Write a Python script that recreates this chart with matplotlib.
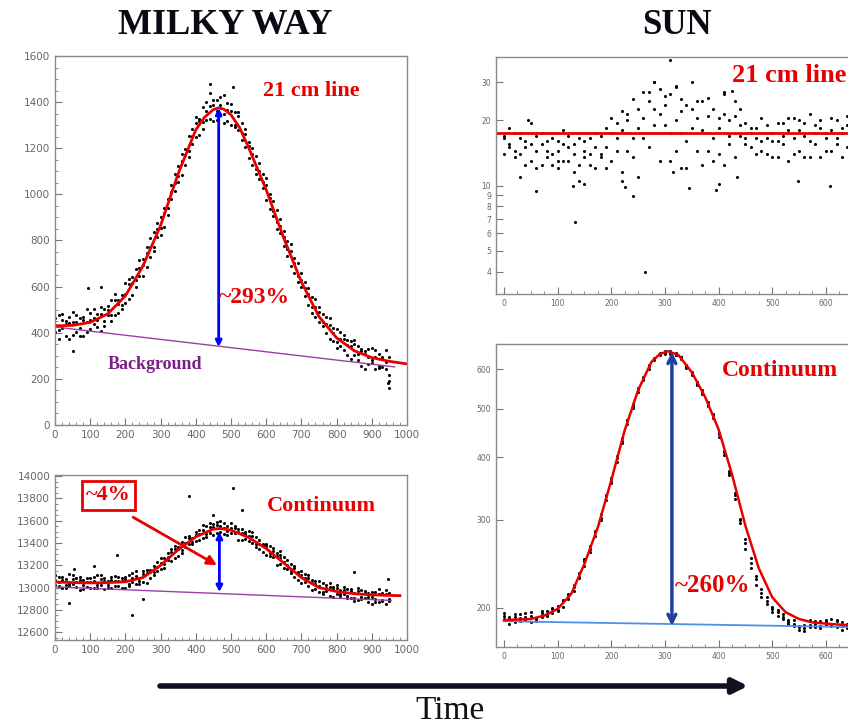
import matplotlib
matplotlib.use('Agg')
import matplotlib.pyplot as plt
from matplotlib.ticker import MultipleLocator, NullLocator
from matplotlib.patches import FancyArrowPatch

# ---------------------
# Milky Way data (sample time, counts)
t_mw = [0, 10, 20, 30, 40, 50, 60, 70, 80, 90, 100, 110, 120, 130, 140, 150, 160, 170, 180, 190,
        200, 210, 220, 230, 240, 250, 260, 270, 280, 290, 300, 310, 320, 330, 340, 350, 360, 370, 380, 390,
        400, 410, 420, 430, 440, 450, 460, 470, 480, 490, 500, 510, 520, 530, 540, 550, 560, 570, 580, 590,
        600, 610, 620, 630, 640, 650, 660, 670, 680, 690, 700, 710, 720, 730, 740, 750, 760, 770, 780, 790,
        800, 810, 820, 830, 840, 850, 860, 870, 880, 890, 900, 910, 920, 930, 940, 950]

mw_line_a = [465, 410, 480, 386, 442, 492, 405, 462, 385, 447, 485, 437, 480, 407, 504, 477, 543, 478, 544, 519,
             615, 546, 642, 628, 714, 645, 745, 730, 835, 815, 900, 860, 980, 980, 1090, 1055, 1143, 1126, 1254, 1217,
             1310, 1257, 1379, 1322, 1440, 1318, 1408, 1349, 1429, 1317, 1390, 1292, 1339, 1236, 1262, 1158, 1201, 1110, 1138, 1027,
             1040, 938, 971, 879, 892, 775, 797, 689, 726, 648, 660, 560, 595, 510, 545, 445, 481, 397, 435, 366,
             418, 342, 371, 304, 363, 302, 341, 255, 319, 263, 332, 244, 306, 252, 324, 216]
mw_line_b = [405, 475, 420, 451, 372, 447, 475, 422, 470, 402, 455, 502, 425, 482, 449, 517, 478, 543, 484, 564,
             530, 611, 562, 678, 644, 720, 685, 810, 770, 850, 825, 940, 940, 1040, 1015, 1125, 1083, 1196, 1189, 1282,
             1250, 1327, 1284, 1402, 1325, 1408, 1323, 1424, 1349, 1397, 1300, 1357, 1279, 1311, 1207, 1228, 1126, 1165, 1068, 1087,
             975, 1003, 906, 934, 832, 840, 732, 754, 661, 703, 600, 620, 520, 555, 470, 510, 431, 467, 375, 421,
             358, 402, 326, 369, 288, 352, 281, 330, 244, 328, 267, 324, 246, 297, 244, 191]
mw_line_c = [435, 375, 455, 436, 467, 392, 445, 387, 455, 502, 415, 462, 455, 512, 429, 497, 453, 568, 524, 504,
             570, 631, 617, 598, 679, 695, 770, 770, 755, 875, 855, 920, 910, 1010, 1050, 1080, 1173, 1171, 1164, 1252,
             1335, 1317, 1314, 1362, 1385, 1388, 1363, 1389, 1309, 1367, 1360, 1302, 1359, 1266, 1282, 1208, 1176, 1090, 1103, 1052,
             1070, 983, 926, 849, 862, 815, 762, 784, 701, 618, 630, 595, 570, 485, 510, 490, 446, 437, 465, 401,
             333, 372, 391, 349, 343, 367, 306, 320, 309, 293, 282, 294, 256, 287, 274, 296]
mw_line_odd_t = [50, 95, 130, 440, 505, 945, 950]
mw_line_odd_y = [320, 592, 600, 1478, 1465, 180, 162]

mw_line_fit_t = [0, 50, 100, 150, 200, 250, 300, 350, 400, 425, 450, 465, 480, 500, 525, 550,
                 600, 650, 700, 750, 800, 850, 900, 950, 1000]
mw_line_fit_y = [430, 432, 445, 482, 560, 690, 865, 1090, 1280, 1335, 1368, 1375, 1369, 1345, 1288, 1203,
                 1020, 810, 620, 470, 378, 322, 292, 276, 265]
mw_line_bg_t = [0, 965]
mw_line_bg_y = [425, 252]
mw_line_arrow_t = 465
mw_line_arrow_y = [338, 1375]

mw_cont_a = [13110, 13014, 13068, 12997, 13121, 13035, 13084, 12979, 13068, 13048, 12997, 13098, 13023, 13079, 12985, 13060, 13096, 13018, 13059, 12996,
             13097, 13035, 13132, 13035, 13087, 13120, 13042, 13154, 13141, 13233, 13165, 13268, 13246, 13344, 13262, 13365, 13333, 13456, 13389, 13442,
             13500, 13429, 13563, 13482, 13546, 13470, 13588, 13550, 13480, 13550, 13490, 13552, 13429, 13491, 13503, 13415, 13495, 13390, 13395, 13320,
             13395, 13314, 13328, 13207, 13266, 13275, 13164, 13208, 13097, 13126, 13150, 13047, 13089, 12981, 13033, 12960, 13043, 12966, 13004, 12912,
             13000, 12946, 13002, 12903, 12969, 12910, 12998, 12916, 12949, 12867, 12965, 12894, 12983, 12877, 12946, 12900]
mw_cont_b = [13020, 13099, 12993, 13077, 13031, 13110, 13004, 13064, 12983, 13088, 13052, 12993, 13113, 13019, 13085, 13000, 13071, 13108, 13014, 13086,
             12992, 13110, 13047, 13105, 13032, 13150, 13127, 13089, 13196, 13148, 13265, 13208, 13306, 13239, 13342, 13280, 13408, 13361, 13464, 13387,
             13475, 13519, 13448, 13557, 13486, 13570, 13488, 13600, 13535, 13475, 13575, 13487, 13529, 13431, 13483, 13505, 13400, 13450, 13350, 13395,
             13295, 13369, 13278, 13312, 13211, 13230, 13249, 13128, 13172, 13066, 13110, 13122, 13014, 13066, 12983, 13055, 12963, 13026, 12929, 12987,
             13020, 12921, 12977, 12923, 12989, 12880, 12968, 12896, 12974, 12917, 12855, 12964, 12873, 12952, 12856, 12955]
mw_cont_c = [13070, 13054, 13093, 13022, 13011, 13075, 13054, 13099, 13023, 13003, 13082, 13058, 12998, 13109, 13055, 13025, 12996, 13063, 13094, 13056,
             13077, 13015, 13087, 13145, 13057, 13050, 13157, 13139, 13111, 13188, 13220, 13178, 13271, 13319, 13372, 13350, 13308, 13401, 13449, 13412,
             13415, 13484, 13513, 13457, 13581, 13540, 13563, 13500, 13580, 13505, 13535, 13537, 13499, 13526, 13433, 13460, 13465, 13365, 13430, 13380,
             13370, 13279, 13358, 13287, 13291, 13180, 13204, 13153, 13192, 13141, 13045, 13087, 13114, 13041, 13063, 13015, 12943, 12996, 13039, 13002,
             12940, 12981, 12947, 12988, 12904, 12955, 12888, 12981, 12909, 12952, 12915, 12869, 12943, 12892, 12981, 12880]
mw_cont_odd_t = [40, 55, 110, 175, 220, 250, 380, 450, 505, 530, 640, 850, 945]
mw_cont_odd_y = [12860, 13170, 13190, 13290, 12750, 12900, 13820, 13650, 13890, 13700, 13330, 13140, 13080]

mw_cont_fit_t = [0, 50, 100, 150, 200, 250, 300, 350, 400, 450, 470, 500, 550, 600, 650, 700, 750, 800, 850, 900, 950, 980]
mw_cont_fit_y = [13050, 13045, 13042, 13045, 13052, 13090, 13200, 13340, 13455, 13525, 13530, 13515, 13450, 13350,
                 13220, 13090, 13000, 12965, 12945, 12935, 12930, 12928]
mw_cont_bg_t = [0, 955]
mw_cont_bg_y = [13006, 12885]
mw_cont_arrow_t = 467
mw_cont_arrow_y = [12960, 13500]

# ---------------------
# Sun data
t_sun = [0, 10, 20, 30, 40, 50, 60, 70, 80, 90, 100, 110, 120, 130, 140, 150, 160, 170, 180, 190,
         200, 210, 220, 230, 240, 250, 260, 270, 280, 290, 300, 310, 320, 330, 340, 350, 360, 370, 380, 390,
         400, 410, 420, 430, 440, 450, 460, 470, 480, 490, 500, 510, 520, 530, 540, 550, 560, 570, 580, 590,
         600, 610, 620, 630, 640]

sun_line_a = [16.5, 15.0, 17.5, 14.0, 16.0, 13.0, 17.0, 15.5, 13.5, 16.5, 14.5, 18.0, 13.0, 15.5, 12.5, 16.0, 14.0, 12.0, 17.0, 15.0,
              20.5, 16.5, 22.0, 14.5, 25.0, 18.5, 27.0, 15.0, 30.0, 21.5, 26.0, 17.5, 28.5, 22.0, 16.0, 30.0, 20.5, 24.5, 14.5, 22.5,
              18.5, 26.5, 15.5, 21.0, 17.0, 19.5, 15.0, 18.5, 16.0, 14.0, 17.5, 19.5, 15.5, 18.0, 20.5, 14.5, 17.0, 21.5, 15.5, 18.5,
              16.5, 14.5, 20.0, 17.5, 21.0]
sun_line_b = [14.0, 18.5, 13.5, 16.5, 12.5, 19.5, 14.5, 12.5, 16.0, 14.0, 12.0, 15.5, 17.0, 14.0, 10.5, 13.5, 16.5, 15.0, 13.5, 18.5,
              13.0, 19.5, 11.5, 21.5, 13.5, 22.5, 16.5, 24.5, 19.0, 13.0, 23.5, 13.0, 20.0, 25.0, 12.0, 22.5, 14.5, 18.0, 25.5, 13.0,
              20.5, 12.5, 20.0, 13.5, 22.5, 15.5, 17.5, 14.0, 20.5, 16.5, 13.5, 16.0, 19.5, 13.0, 16.5, 20.0, 13.5, 16.0, 19.0, 13.5,
              17.5, 20.5, 15.5, 18.5, 15.0]
sun_line_c = [17.0, 15.5, 14.5, 17.5, 15.0, 15.5, 12.0, 17.5, 14.5, 12.5, 16.0, 13.0, 15.0, 11.5, 16.5, 14.5, 12.5, 17.5, 14.0, 12.0,
              17.5, 14.5, 18.0, 20.0, 16.5, 11.0, 20.5, 27.0, 22.5, 28.0, 19.0, 26.5, 14.5, 17.5, 23.5, 18.5, 24.5, 12.5, 21.0, 16.5,
              14.0, 21.5, 17.0, 24.5, 19.0, 16.5, 18.5, 16.5, 14.5, 19.0, 16.0, 13.5, 17.0, 20.5, 14.0, 18.0, 19.5, 13.5, 17.5, 20.0,
              14.5, 18.0, 16.5, 13.5, 19.0]
sun_line_odd_t = [30, 45, 60, 100, 128, 133, 150, 220, 225, 240, 262, 280, 310, 315, 320, 330, 345, 395, 400, 410, 425, 435, 548, 607]
sun_line_odd_y = [11.0, 20.0, 9.4, 13.0, 10.0, 6.8, 10.2, 10.5, 9.8, 8.9, 4.0, 30.0, 38.0, 11.5, 29.0, 12.0, 9.7, 9.5, 10.2, 27.0, 27.5, 11.0, 10.5, 10.0]
sun_line_fit = 17.5

sun_cont_a = [193, 186, 192, 188, 195, 187, 191, 197, 193, 199, 197, 206, 208, 222, 229, 248, 259, 285, 300, 336,
              355, 402, 428, 476, 502, 550, 570, 611, 625, 647, 645, 652, 640, 636, 603, 592, 558, 545, 507, 488,
              445, 412, 368, 330, 296, 262, 240, 222, 210, 204, 196, 193, 190, 186, 184, 181, 185, 189, 183, 188,
              185, 190, 183, 187, 182]
sun_cont_b = [190, 192, 187, 194, 189, 193, 188, 192, 197, 195, 202, 201, 213, 216, 235, 242, 266, 278, 308, 328,
              364, 392, 438, 466, 512, 540, 578, 600, 633, 640, 653, 645, 647, 628, 612, 584, 567, 536, 516, 479,
              440, 405, 372, 336, 301, 270, 246, 228, 214, 206, 199, 196, 192, 189, 186, 184, 182, 185, 188, 184,
              189, 186, 188, 184, 186]
sun_cont_c = [195, 190, 194, 191, 192, 196, 190, 195, 194, 200, 198, 207, 211, 220, 231, 250, 262, 284, 302, 334,
              358, 398, 432, 474, 506, 548, 573, 608, 628, 645, 648, 650, 642, 634, 606, 590, 561, 541, 510, 485,
              448, 410, 376, 340, 300, 275, 252, 232, 218, 210, 201, 198, 194, 187, 189, 183, 180, 183, 186, 182,
              187, 184, 189, 181, 185]
sun_cont_fit_t = [0, 50, 75, 100, 125, 150, 175, 200, 225, 250, 275, 290, 305, 325, 350, 375, 400, 425, 450, 475,
                  500, 525, 550, 575, 600, 660]
sun_cont_fit_y = [189, 190, 193, 199, 213, 245, 290, 360, 453, 545, 621, 643, 652, 641, 592, 528, 455, 370, 292, 240,
                  210, 196, 190, 187, 186, 184]
sun_cont_bg_t = [0, 660]
sun_cont_bg_y = [188, 183]
sun_cont_arrow_t = 313
sun_cont_arrow_y = [184, 650]

# ---------------------
W, H = 848, 725
def box(x0, y0, x1, y1):
    # pixel box (left, top, right, bottom) -> figure fraction
    return [x0 / W, 1 - y1 / H, (x1 - x0) / W, (y1 - y0) / H]
def px(x, y):
    return (x / W, 1 - y / H)

RED = '#e80000'
SERIF = 'Liberation Serif'

fig = plt.figure(figsize=(W / 100, H / 100), dpi=100)
ax1 = fig.add_axes(box(55, 56, 407, 425))
ax2 = fig.add_axes(box(55, 475, 407, 640))
ax3 = fig.add_axes(box(496, 57, 858, 294))
ax4 = fig.add_axes(box(496, 344, 858, 647))

for ax in (ax1, ax2, ax3, ax4):
    for s in ax.spines.values():
        s.set_color('#8a8a8a')
        s.set_linewidth(1.0)
    ax.tick_params(which='both', direction='in', color='#777777', labelcolor='#666666')
    ax.tick_params(which='major', length=5)
    ax.tick_params(which='minor', length=2.5)
for ax in (ax1, ax2):
    ax.tick_params(labelsize=7.5)
    ax.set_xlim(0, 1000)
    ax.xaxis.set_major_locator(MultipleLocator(100))
    ax.xaxis.set_minor_locator(MultipleLocator(20))
    ax.yaxis.set_major_locator(MultipleLocator(200))
    ax.yaxis.set_minor_locator(MultipleLocator(50))
for ax in (ax3, ax4):
    ax.tick_params(labelsize=5.5)
    ax.set_xlim(-15, 660)
    ax.xaxis.set_major_locator(MultipleLocator(100))
    ax.xaxis.set_minor_locator(MultipleLocator(25))
    ax.set_yscale('log')

dot = dict(ls='none', marker='o', ms=2.2, color='black', mew=0)

# --- milky way 21 cm line
for row in (mw_line_a, mw_line_b, mw_line_c):
    ax1.plot(t_mw, row, **dot)
ax1.plot(mw_line_odd_t, mw_line_odd_y, **dot)
ax1.plot(mw_line_bg_t, mw_line_bg_y, color='#9b3fa6', lw=1)
ax1.plot(mw_line_fit_t, mw_line_fit_y, color=RED, lw=2)
ax1.annotate('', xy=(mw_line_arrow_t, mw_line_arrow_y[1]), xytext=(mw_line_arrow_t, mw_line_arrow_y[0]),
             arrowprops=dict(arrowstyle='<|-|>', color='#0000ff', lw=2, mutation_scale=9, shrinkA=0, shrinkB=0))
ax1.set_ylim(0, 1600)
ax1.text(727, 1448, '21 cm line', color=RED, family=SERIF, weight='bold', fontsize=16, ha='center', va='center')
ax1.text(565, 551, '~293%', color=RED, family=SERIF, weight='bold', fontsize=17, ha='center', va='center')
ax1.text(285, 263, 'Background', color='#7a1f86', family=SERIF, weight='bold', fontsize=13, ha='center', va='center')

# --- milky way continuum
for row in (mw_cont_a, mw_cont_b, mw_cont_c):
    ax2.plot(t_mw, row, **dot)
ax2.plot(mw_cont_odd_t, mw_cont_odd_y, **dot)
ax2.plot(mw_cont_bg_t, mw_cont_bg_y, color='#9b3fa6', lw=1)
ax2.plot(mw_cont_fit_t, mw_cont_fit_y, color=RED, lw=2)
ax2.annotate('', xy=(mw_cont_arrow_t, mw_cont_arrow_y[1]), xytext=(mw_cont_arrow_t, mw_cont_arrow_y[0]),
             arrowprops=dict(arrowstyle='<|-|>', color='#0000ff', lw=2, mutation_scale=9, shrinkA=0, shrinkB=0))
ax2.annotate('', xy=(460, 13201), xytext=(222, 13631),
             arrowprops=dict(arrowstyle='-|>', color=RED, lw=2, mutation_scale=14, shrinkA=0, shrinkB=0))
ax2.set_ylim(12530, 14010)
ax2.text(152, 13830, '~4%', color=RED, family=SERIF, weight='bold', fontsize=16, ha='center', va='center',
         bbox=dict(boxstyle='square,pad=0.2', fc='white', ec=RED, lw=2))
ax2.text(757, 13735, 'Continuum', color=RED, family=SERIF, weight='bold', fontsize=16, ha='center', va='center')

# --- sun 21 cm line
for row in (sun_line_a, sun_line_b, sun_line_c):
    ax3.plot(t_sun, row, **dot)
ax3.plot(sun_line_odd_t, sun_line_odd_y, **dot)
ax3.axhline(sun_line_fit, color=RED, lw=2)
ax3.set_ylim(3.15, 39.3)
ax3.set_yticks([4, 5, 6, 7, 8, 9, 10, 20, 30], labels=['4', '5', '6', '7', '8', '9', '10', '20', '30'])
ax3.yaxis.set_minor_locator(NullLocator())
fig.text(*px(732, 76), '21 cm line', color=RED, family=SERIF, weight='bold', fontsize=19, ha='left', va='center')

# --- sun continuum
for row in (sun_cont_a, sun_cont_b, sun_cont_c):
    ax4.plot(t_sun, row, **dot)
ax4.plot(sun_cont_bg_t, sun_cont_bg_y, color='#4f8fe8', lw=1.3)
ax4.plot(sun_cont_fit_t, sun_cont_fit_y, color=RED, lw=1.8)
ax4.annotate('', xy=(sun_cont_arrow_t, sun_cont_arrow_y[1]), xytext=(sun_cont_arrow_t, sun_cont_arrow_y[0]),
             arrowprops=dict(arrowstyle='<->', color='#1f3f9e', lw=2.5, mutation_scale=14, shrinkA=0, shrinkB=0))
ax4.set_ylim(167, 674)
ax4.set_yticks([200, 300, 400, 500, 600], labels=['200', '300', '400', '500', '600'])
ax4.yaxis.set_minor_locator(NullLocator())
fig.text(*px(780, 371), 'Continuum', color=RED, family=SERIF, weight='bold', fontsize=17, ha='center', va='center')
fig.text(*px(713, 585), '~260%', color=RED, family=SERIF, weight='bold', fontsize=18, ha='center', va='center')

# --- titles and time arrow
fig.text(*px(225, 26), 'MILKY WAY', family=SERIF, weight='bold', fontsize=26, ha='center', va='center', color='#0a0a14')
fig.text(*px(677, 25), 'SUN', family=SERIF, weight='bold', fontsize=25, ha='center', va='center', color='#0a0a14')
fig.text(*px(450, 711), 'Time', family=SERIF, fontsize=24, ha='center', va='center', color='#111111')
fig.add_artist(FancyArrowPatch(px(160, 686), px(748, 686), transform=fig.transFigure, arrowstyle='-|>',
                               mutation_scale=22, lw=4, color='#111122', shrinkA=0, shrinkB=0))

fig.savefig('out.png', dpi=100)
